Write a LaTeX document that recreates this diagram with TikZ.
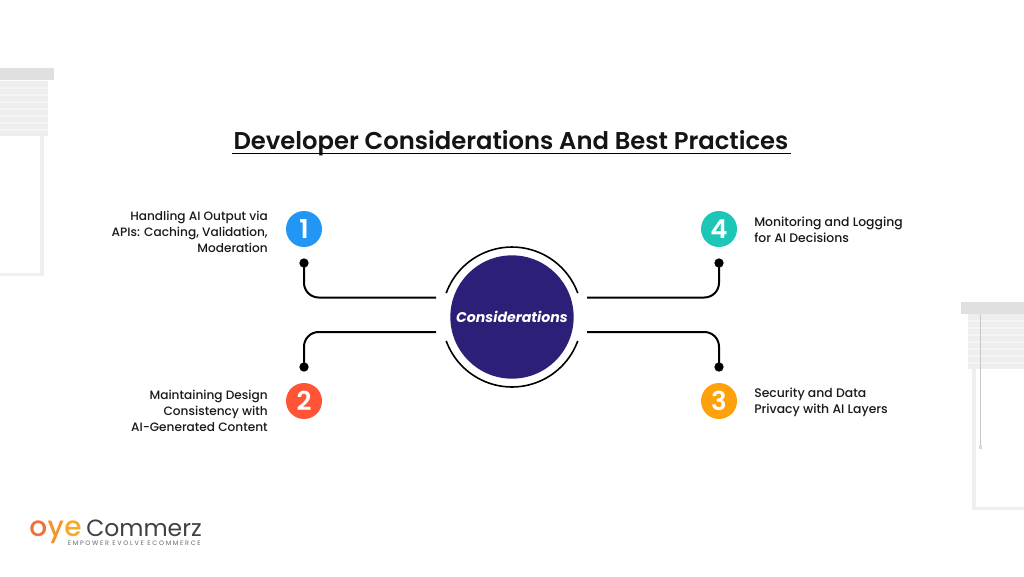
\documentclass[tikz,border=0pt]{standalone}
\usepackage{fontspec}
\setmainfont{Poppins}
\newfontfamily\medfont{Poppins Medium}
\newfontfamily\semifont{Poppins SemiBold}
\definecolor{navy}{HTML}{2B1F78}
\definecolor{nblue}{HTML}{2196F5}
\definecolor{nred}{HTML}{FF5436}
\definecolor{nteal}{HTML}{1CC7B7}
\definecolor{norange}{HTML}{FFA10A}
\definecolor{barc}{HTML}{E0E0E0}
\definecolor{framec}{HTML}{EFEFEF}
\definecolor{slatc}{HTML}{EEEEEE}
\definecolor{logod}{HTML}{3F4145}
\definecolor{logoa}{HTML}{EE7238}
\definecolor{logob}{HTML}{F3932B}
\definecolor{logoc}{HTML}{F8A92A}
\tikzset{
  numdisc/.style={circle,minimum size=27pt,inner sep=0pt,text=white,font=\semifont\fontsize{19.5}{19.5}\selectfont},
  pin/.style={circle,fill=black,minimum size=7pt,inner sep=0pt},
  link/.style={draw=black,line width=1.5pt,rounded corners=11pt},
  lefttxt/.style={anchor=east,align=right,font=\medfont\fontsize{9.1}{11.8}\selectfont,text=black!90,inner sep=0pt},
  righttxt/.style={anchor=west,align=left,font=\medfont\fontsize{9.3}{11.8}\selectfont,text=black!90,inner sep=0pt},
  ringarc/.style={draw=black,line width=1.2pt},
  logoletter/.style={anchor=base west,inner sep=0pt,font=\medfont\fontsize{21}{21}\selectfont},
}
\begin{document}
\begin{tikzpicture}[x=0.75pt,y=-0.75pt]
\useasboundingbox (0,0) rectangle (1024,576);
\fill[white] (0,0) rectangle (1024,576);
% left blind
\fill[framec] (40,136) rectangle (44,276);
\fill[framec] (0,273) rectangle (44,276);
\fill[slatc] (0,81) rectangle (48,136);
\foreach \yy in {87,94,101,108,115,122,129}{\fill[white,opacity=.45] (0,\yy) rectangle (48,\yy+2);}
\fill[barc] (0,68) rectangle (54,80);
% right blind
\fill[framec] (972,369) rectangle (976,510);
\fill[framec] (972,507) rectangle (1024,510);
\fill[slatc] (968,314) rectangle (1024,369);
\foreach \yy in {320,327,334,341,348,355,362}{\fill[white,opacity=.45] (968,\yy) rectangle (1024,\yy+2);}
\fill[barc] (961,302) rectangle (1024,314);
\draw[black!22,line width=.5pt] (980.5,314) -- (980.5,446);
\fill[black!15] (979.2,445) rectangle (981.8,449);
% title
\node[font=\semifont\fontsize{18.2}{22}\selectfont,text=black!92,inner sep=0pt] (title) at (511,143.5) {Developer Considerations And Best Practices};
\draw[black,line width=1pt] (232,153.5) -- (791,153.5);
% centre
\node[circle,fill=navy,minimum size=92.5pt,inner sep=0pt,text=white,font=\fontsize{10.6}{12}\selectfont\bfseries\itshape] (hub) at (512,317) {Considerations};
\draw[ringarc] (446.2,293.1) arc[start angle=160,end angle=20,radius=52.5pt];
\draw[ringarc] (446.2,340.9) arc[start angle=200,end angle=340,radius=52.5pt];
% numbered discs
\node[numdisc,fill=nblue] (n1) at (304,229) {1};
\node[numdisc,fill=nred] (n2) at (304,401) {2};
\node[numdisc,fill=norange] (n3) at (719,401) {3};
\node[numdisc,fill=nteal] (n4) at (719,229) {4};
% pins
\node[pin] (p1) at (304,263) {};
\node[pin] (p2) at (304,367) {};
\node[pin] (p3) at (719,367) {};
\node[pin] (p4) at (719,263) {};
% free ends
\coordinate (e1) at (436,297.5);
\coordinate (e2) at (436,332);
\coordinate (e3) at (587,332);
\coordinate (e4) at (587,297.5);
\draw[link] (p1.center) |- (e1);
\draw[link] (p2.center) |- (e2);
\draw[link] (p3.center) |- (e3);
\draw[link] (p4.center) |- (e4);
% labels
\node[lefttxt] (t1) at (268,232) {Handling AI Output via\\APIs: Caching, Validation,\\Moderation};
\node[lefttxt] (t2) at (268,411) {Maintaining Design\\Consistency with\\AI-Generated Content};
\node[righttxt] (t3) at (754,402) {Security and Data\\Privacy with AI Layers};
\node[righttxt] (t4) at (754,230) {Monitoring and Logging\\for AI Decisions};
% logo
\node[logoletter,text=logoa] (lo) at (29,536) {o};
\node[logoletter,text=logob] (ly) at (lo.base east) {y};
\node[logoletter,text=logoc] (le) at (ly.base east) {e};
\node[anchor=base west,inner sep=0pt,font=\fontsize{17.6}{18}\selectfont,text=logod] (lc) at (86,536) {Commerz};
\node[anchor=base east,inner sep=0pt,font=\fontsize{4.8}{5}\selectfont,text=logod!80] (lt) at (201,545) {E M P O W E R\ \ E V O L V E\ \ E C O M M E R C E};
\end{tikzpicture}
\end{document}
